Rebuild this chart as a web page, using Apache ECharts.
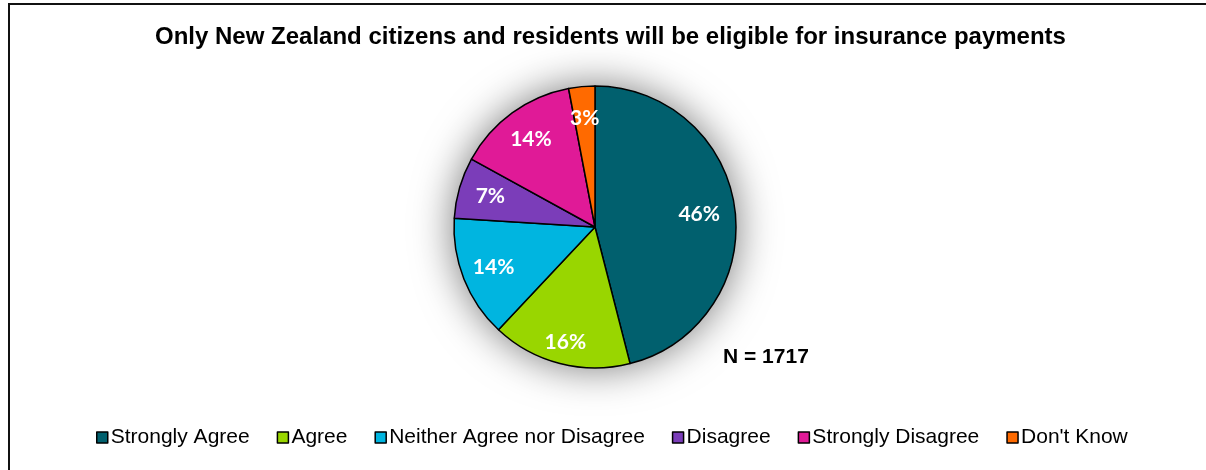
<!DOCTYPE html>
<html>
<head>
<meta charset="utf-8">
<script src="https://cdn.jsdelivr.net/npm/echarts@6/dist/echarts.min.js"></script>
<style>
  html, body { margin: 0; padding: 0; background: #fff; }
  #chart { width: 1206px; height: 470px; }
</style>
</head>
<body>
<div id="chart"></div>
<script>
// Survey responses (percent of respondents)
const categories = ['Strongly Agree', 'Agree', 'Neither Agree nor Disagree', 'Disagree', 'Strongly Disagree', "Don't Know"];
const values = [46, 16, 14, 7, 14, 3];
const colors = ['#01606E', '#99D600', '#00B5E0', '#7B3DB9', '#E01A97', '#FF6A00'];
const titleText = 'Only New Zealand citizens and residents will be eligible for insurance payments';
const sampleNote = 'N = 1717';

const chart = echarts.init(document.getElementById('chart'));

const center = [595, 227];
const radius = 141;
const font = 'Arial, "Liberation Sans", sans-serif';
const labelFont = 'Lato, "Open Sans", sans-serif';

const pieData = categories.map((name, i) => ({ name, value: values[i], itemStyle: { color: colors[i] } }));

// transparent copies of the pie that only carry the percentage labels,
// each ring placing its labels at a different distance from the centre
function labelSeries(r0, r1, shown) {
  return {
    type: 'pie',
    center, radius: [r0, r1],
    startAngle: 90, clockwise: true,
    silent: true, animation: false,
    z: 5,
    itemStyle: { color: 'rgba(0,0,0,0)', borderWidth: 0 },
    emphasis: { disabled: true },
    labelLine: { show: false },
    data: categories.map((name, i) => ({
      name, value: values[i],
      label: { show: shown.includes(i) }
    })),
    label: {
      position: 'inside',
      formatter: '{d}%',
      color: '#fff',
      fontFamily: labelFont,
      fontWeight: 'bold',
      fontSize: 21
    }
  };
}

chart.setOption({
  animation: false,
  title: {
    text: titleText,
    left: 150,
    top: 20,
    textStyle: { fontFamily: font, fontWeight: 'bold', fontSize: 24, color: '#000' }
  },
  legend: {
    data: categories,
    bottom: 17,
    left: 91,
    icon: 'rect',
    itemWidth: 11,
    itemHeight: 11,
    itemGap: 27,
    itemStyle: { borderColor: '#000', borderWidth: 1.5 },
    textStyle: { fontFamily: font, fontSize: 21, color: '#000', padding: [0, 0, 0, -2] }
  },
  graphic: [
    {
      type: 'rect',
      shape: { x: 9, y: 4, width: 1210, height: 480 },
      style: { fill: 'none', stroke: '#111', lineWidth: 2 },
      silent: true
    },
    {
      type: 'text',
      left: 723,
      top: 347,
      style: { text: sampleNote, font: 'bold 21px ' + font, fill: '#000' }
    }
  ],
  series: [
    {
      // soft glow behind the pie
      type: 'pie',
      center, radius,
      silent: true, animation: false,
      z: 1,
      label: { show: false },
      labelLine: { show: false },
      itemStyle: { color: '#fff', shadowBlur: 42, shadowColor: 'rgba(0,0,0,0.55)', shadowOffsetX: 0, shadowOffsetY: 0 },
      data: [{ name: '_bg', value: 1 }]
    },
    {
      type: 'pie',
      center, radius,
      startAngle: 90, clockwise: true,
      z: 3,
      label: { show: false },
      labelLine: { show: false },
      itemStyle: { borderColor: '#000', borderWidth: 1.5 },
      data: pieData
    },
    labelSeries(72, 160, [1]),
    labelSeries(60, 152, [2, 3, 4, 5]),
    labelSeries(30, 174, [0])
  ]
});
</script>
</body>
</html>
